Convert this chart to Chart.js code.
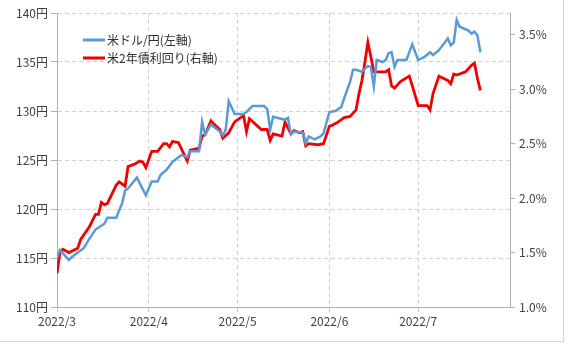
<!DOCTYPE html>
<html>
<head>
<meta charset="utf-8">
<script src="https://cdn.jsdelivr.net/npm/chart.js@4/dist/chart.umd.min.js"></script>
<style>
  html, body { margin: 0; padding: 0; background: #fff; }
  #wrap { width: 563px; height: 341px; border-right: 1px solid #d4d4d4; border-bottom: 1px solid #d4d4d4; position: relative; }
</style>
</head>
<body>
<div id="wrap"><canvas id="chart"></canvas></div>
<script>
// axis ticks
const monthTicks = ["2022-03-01", "2022-04-01", "2022-05-01", "2022-06-01", "2022-07-01"];
const monthLabels = ["2022/3", "2022/4", "2022/5", "2022/6", "2022/7"];
const axisEnd = "2022-08-01";
const yenTicks = [110, 115, 120, 125, 130, 135, 140];
const rateTicks = [1.0, 1.5, 2.0, 2.5, 3.0, 3.5];

// 米ドル/円
const usdDates = ["03-01","03-02","03-05","03-06","03-10","03-12","03-14","03-17","03-18","03-21",
  "03-23","03-24","03-25","03-28","03-31","04-02","04-04","04-05","04-07","04-09",
  "04-12","04-14","04-15","04-18","04-19","04-20","04-22","04-25","04-26","04-27",
  "04-28","04-30","05-03","05-04","05-06","05-10","05-11","05-12","05-13","05-17",
  "05-18","05-19","05-20","05-23","05-24","05-25","05-27","05-29","05-30","06-01",
  "06-03","06-05","06-06","06-08","06-09","06-10","06-12","06-14","06-15","06-16",
  "06-17","06-19","06-20","06-21","06-22","06-23","06-24","06-27","06-29","06-30",
  "07-01","07-03","07-05","07-06","07-08","07-11","07-12","07-13","07-14","07-15",
  "07-18","07-19","07-20","07-21","07-22"];
const usdValues = [115.0,115.8,114.8,115.1,116.0,117.0,117.9,118.5,119.1,119.1,
  120.6,121.9,122.1,123.2,121.4,122.8,122.8,123.5,124.0,124.8,
  125.5,125.3,125.9,125.9,128.9,127.6,128.6,127.9,127.5,128.1,
  131.0,129.7,129.7,129.9,130.5,130.5,130.2,128.1,129.4,129.1,
  129.3,127.6,127.9,127.8,126.7,127.4,127.1,127.4,127.7,129.9,
  130.0,130.4,131.3,133.0,134.2,134.2,134.0,134.6,134.5,132.5,
  135.2,135.0,135.2,135.9,136.0,134.5,135.2,135.2,136.8,136.0,
  135.2,135.5,136.0,135.7,136.2,137.4,136.7,137.0,139.3,138.6,
  138.2,137.9,138.1,137.7,136.0];

// 米2年債利回り (%)
const rateDates = ["03-01","03-02","03-03","03-05","03-08","03-09","03-12","03-14","03-15","03-16",
  "03-17","03-18","03-21","03-22","03-24","03-25","03-27","03-29","03-30","03-31",
  "04-02","04-04","04-06","04-07","04-08","04-09","04-11","04-14","04-15","04-18",
  "04-19","04-20","04-22","04-23","04-25","04-26","04-28","04-30","05-02","05-03",
  "05-04","05-05","05-09","05-11","05-12","05-13","05-16","05-17","05-19","05-20",
  "05-22","05-23","05-24","05-25","05-28","05-30","06-01","06-02","06-04","06-06",
  "06-08","06-10","06-11","06-12","06-13","06-14","06-15","06-16","06-20","06-21",
  "06-22","06-23","06-25","06-28","06-29","07-01","07-04","07-05","07-06","07-08",
  "07-11","07-12","07-13","07-14","07-17","07-19","07-20","07-21","07-22"];
const rateValues = [1.31,1.50,1.53,1.50,1.54,1.62,1.74,1.85,1.85,1.96,
  1.94,1.95,2.12,2.15,2.11,2.29,2.31,2.34,2.33,2.28,
  2.43,2.43,2.50,2.50,2.47,2.52,2.51,2.34,2.44,2.46,
  2.57,2.58,2.71,2.68,2.63,2.55,2.60,2.70,2.74,2.76,
  2.61,2.73,2.63,2.63,2.53,2.59,2.57,2.70,2.59,2.62,
  2.60,2.61,2.48,2.50,2.49,2.50,2.66,2.67,2.70,2.74,
  2.75,2.81,2.96,3.08,3.25,3.43,3.30,3.16,3.16,3.18,
  3.03,3.01,3.07,3.12,3.03,2.85,2.85,2.81,2.96,3.12,
  3.08,3.05,3.14,3.13,3.16,3.22,3.24,3.10,2.99];

// days since 2022-03-01
function dayOf(s) {
  const p = s.split("-").map(Number);
  if (p.length === 2) p.unshift(2022);
  return (Date.UTC(p[0], p[1] - 1, p[2]) - Date.UTC(2022, 2, 1)) / 86400000;
}
const monthDays = monthTicks.map(dayOf);

const FONT = '"Noto Sans CJK JP", "DejaVu Sans", sans-serif';
Chart.defaults.font.family = FONT;
Chart.defaults.font.size = 12;
Chart.defaults.color = "#404040";

const legendInside = {
  id: "legendInside",
  afterDraw(chart) {
    const ctx = chart.ctx;
    ctx.save();
    ctx.font = "12px " + FONT;
    ctx.textBaseline = "middle";
    chart.data.datasets.forEach((ds, i) => {
      const y = 40 + i * 18;
      ctx.strokeStyle = ds.borderColor;
      ctx.lineWidth = 3;
      ctx.beginPath();
      ctx.moveTo(83, y);
      ctx.lineTo(105, y);
      ctx.stroke();
      ctx.fillStyle = "#303030";
      ctx.fillText(ds.label, 107, y);
    });
    ctx.restore();
  }
};

new Chart(document.getElementById("chart"), {
  type: "line",
  data: {
    datasets: [
      {
        label: "米ドル/円(左軸)",
        data: usdDates.map((d, i) => ({ x: dayOf(d), y: usdValues[i] })),
        borderColor: "#5B9BD5",
        borderWidth: 2.5,
        yAxisID: "y",
        pointRadius: 0,
        tension: 0
      },
      {
        label: "米2年債利回り(右軸)",
        data: rateDates.map((d, i) => ({ x: dayOf(d), y: rateValues[i] })),
        borderColor: "#EE0000",
        borderWidth: 2.8,
        yAxisID: "y1",
        pointRadius: 0,
        tension: 0
      }
    ]
  },
  options: {
    responsive: true,
    maintainAspectRatio: false,
    animation: false,
    layout: { padding: { top: 13, left: 0, right: 0, bottom: 0 } },
    plugins: { legend: { display: false }, tooltip: { enabled: false } },
    scales: {
      x: {
        type: "linear",
        min: 0,
        max: dayOf(axisEnd),
        afterBuildTicks: s => { s.ticks = monthDays.map(v => ({ value: v })); },
        afterFit: s => { s.height = 34; },
        ticks: {
          autoSkip: false,
          maxRotation: 0,
          padding: 2,
          callback: v => monthLabels[monthDays.indexOf(v)]
        },
        grid: { color: "#d0d0d0", tickColor: "#c8c8c8", tickLength: 5 },
        border: { color: "#b0b0b0", width: 1, dash: [4, 3] }
      },
      y: {
        position: "left",
        min: 110,
        max: 140,
        afterBuildTicks: s => { s.ticks = yenTicks.map(v => ({ value: v })); },
        afterFit: s => { s.width = 57; },
        ticks: { padding: 3, callback: v => v + "円" },
        grid: { color: "#d0d0d0", tickColor: "#b0b0b0", tickLength: 6 },
        border: { color: "#b0b0b0", width: 1, dash: [4, 3] }
      },
      y1: {
        position: "right",
        min: 1.0,
        max: 3.7,
        afterBuildTicks: s => { s.ticks = rateTicks.map(v => ({ value: v })); },
        afterFit: s => { s.width = 53; },
        ticks: { padding: 4, callback: v => v.toFixed(1) + "%" },
        grid: { drawOnChartArea: false, tickColor: "#b0b0b0", tickLength: 5 },
        border: { color: "#b0b0b0", width: 1 }
      }
    }
  },
  plugins: [legendInside]
});
</script>
</body>
</html>
